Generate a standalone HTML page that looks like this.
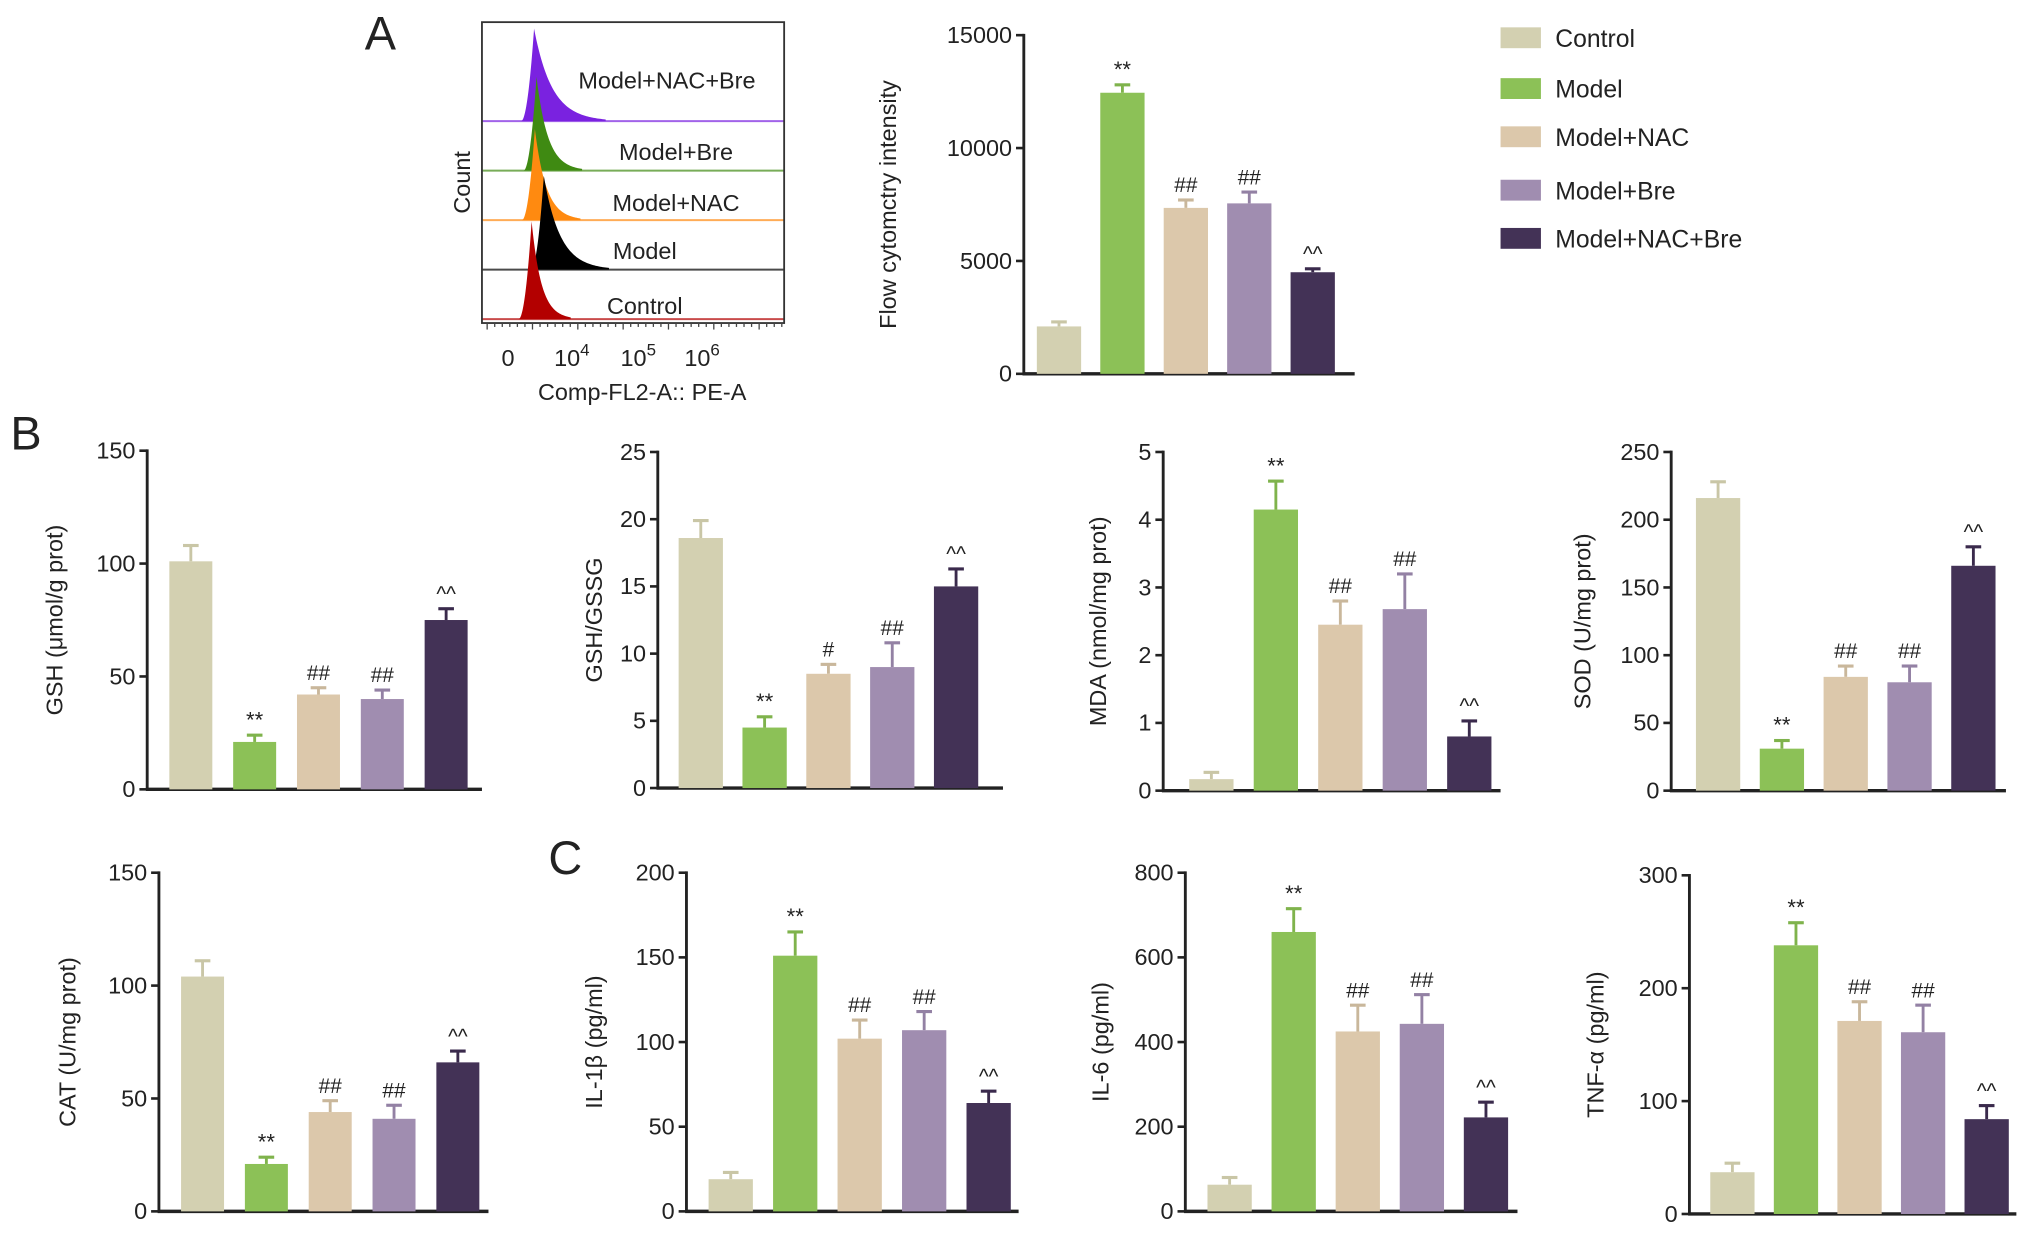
<!DOCTYPE html>
<html><head><meta charset="utf-8">
<style>
html,body{margin:0;padding:0;background:#fff;}
svg{display:block;}
text{font-family:"Liberation Sans Narrow","Liberation Sans",sans-serif;fill:#222;}
</style></head>
<body>
<svg id="fig" width="2032" height="1233" viewBox="0 0 1560 946.6" xmlns="http://www.w3.org/2000/svg">
<rect x="0" y="0" width="1560" height="947" fill="#fff"/>
<g id="root"></g>
</svg>
<script>
// ---- data ----
const groups = ["Control","Model","Model+NAC","Model+Bre","Model+NAC+Bre"];
const colors = ["#d3d0b1","#8cc157","#dcc8ab","#a08db0","#433256"];
const errColors = ["#c9c6a6","#7fb34c","#c9b79b","#9381a4","#3a2a4c"];

const flowValues = [2100,12450,7350,7550,4500];
const flowErr = [2300,12800,7700,8050,4650];
const flowMarks = ["","**","##","##","^^"];

const gshValues = [101,21,42,40,75];
const gshErr = [108,24,45,44,80];
const gshMarks = ["","**","##","##","^^"];

const gssgValues = [18.6,4.5,8.5,9.0,15.0];
const gssgErr = [19.9,5.3,9.2,10.8,16.3];
const gssgMarks = ["","**","#","##","^^"];

const mdaValues = [0.17,4.15,2.45,2.68,0.8];
const mdaErr = [0.27,4.57,2.8,3.2,1.03];
const mdaMarks = ["","**","##","##","^^"];

const sodValues = [216,31,84,80,166];
const sodErr = [228,37,92,92,180];
const sodMarks = ["","**","##","##","^^"];

const catValues = [104,21,44,41,66];
const catErr = [111,24,49,47,71];
const catMarks = ["","**","##","##","^^"];

const il1Values = [19,151,102,107,64];
const il1Err = [23,165,113,118,71];
const il1Marks = ["","**","##","##","^^"];

const il6Values = [63,660,425,443,222];
const il6Err = [80,715,487,512,258];
const il6Marks = ["","**","##","##","^^"];

const tnfValues = [37,238,171,161,84];
const tnfErr = [45,258,188,185,96];
const tnfMarks = ["","**","##","##","^^"];

const flowTicks = [0,5000,10000,15000];
const gshTicks = [0,50,100,150];
const gssgTicks = [0,5,10,15,20,25];
const mdaTicks = [0,1,2,3,4,5];
const sodTicks = [0,50,100,150,200,250];
const catTicks = [0,50,100,150];
const il1Ticks = [0,50,100,150,200];
const il6Ticks = [0,200,400,600,800];
const tnfTicks = [0,100,200,300];

const histLabels = ["Model+NAC+Bre","Model+Bre","Model+NAC","Model","Control"];
const histColors = ["#7a22e0","#3f8a12","#ff8a10","#000000","#b30000"];
const histPeakLog = [1.6,1.75,1.65,2.2,1.45];
const histTail = [4.4,2.8,2.8,4.0,2.4];
const histHeight = [71,72,70,72,75];

// ---- helpers ----
const NS="http://www.w3.org/2000/svg";
const root=document.getElementById('root');
function el(tag,attrs,parent){const e=document.createElementNS(NS,tag);for(const k in attrs)e.setAttribute(k,attrs[k]);(parent||root).appendChild(e);return e;}
function txt(s,attrs,parent){const e=el('text',attrs,parent);e.textContent=s;return e;}

function barChart(cfg){
  const g=el('g',{});
  
  
  const max=cfg.ticks[cfg.ticks.length-1];
  const y=v=>cfg.y0-(v/max)*(cfg.y0-cfg.yTop);
  const x=i=>cfg.bx+i*cfg.step;
  const ya=el('line',{x1:cfg.ax,y1:cfg.yTop-1,x2:cfg.ax,y2:cfg.y0+1,stroke:'#222','stroke-width':2.2},g);
  
  
  const xa=el('line',{x1:cfg.ax-1,y1:cfg.y0,x2:cfg.xEnd,y2:cfg.y0,stroke:'#222','stroke-width':2.6},g);
  
  
  cfg.ticks.forEach(t=>{
    el('line',{x1:cfg.ax-6,y1:y(t),x2:cfg.ax,y2:y(t),stroke:'#222','stroke-width':2},g);
    const tl=txt(String(t),{x:cfg.ax-9,y:y(t)+6,'text-anchor':'end','font-size':18},g);
    
    
  });
  const tt=txt(cfg.title,{x:0,y:0,'text-anchor':'middle','font-size':18,transform:`translate(${cfg.tx},${(cfg.y0+cfg.yTop)/2}) rotate(-90)`},g);
  
  
  cfg.values.forEach((v,i)=>{
    const bx=x(i), top=y(v), et=y(cfg.err[i]), cx=bx+cfg.bw/2;
    el('line',{x1:cx,y1:top,x2:cx,y2:et,stroke:errColors[i],'stroke-width':2.2},g);
    el('line',{x1:cx-6,y1:et,x2:cx+6,y2:et,stroke:errColors[i],'stroke-width':2.4},g);
    const b=el('rect',{x:bx,y:top,width:cfg.bw,height:cfg.y0-top,fill:colors[i]},g);
    
    
    if(cfg.marks[i]){
      const m=txt(cfg.marks[i],{x:cx,y:et-6,'text-anchor':'middle','font-size':cfg.marks[i]==='**'?17:16},g);
      
      
    }
  });
}

barChart({name:'flow-intensity-chart',ax:786,y0:287,yTop:27,xEnd:1040,bx:796,step:48.7,bw:34,ticks:flowTicks,values:flowValues,err:flowErr,marks:flowMarks,title:'Flow cytomctry intensity',tx:688});
barChart({name:'gsh-chart',ax:113,y0:606,yTop:346,xEnd:370,bx:130,step:49,bw:33,ticks:gshTicks,values:gshValues,err:gshErr,marks:gshMarks,title:'GSH (μmol/g prot)',tx:48});
barChart({name:'gsh-gssg-chart',ax:505,y0:605,yTop:347,xEnd:770,bx:521,step:49,bw:34,ticks:gssgTicks,values:gssgValues,err:gssgErr,marks:gssgMarks,title:'GSH/GSSG',tx:462});
barChart({name:'mda-chart',ax:893,y0:607,yTop:347,xEnd:1152,bx:913,step:49.5,bw:34,ticks:mdaTicks,values:mdaValues,err:mdaErr,marks:mdaMarks,title:'MDA (nmol/mg prot)',tx:849});
barChart({name:'sod-chart',ax:1283,y0:607,yTop:347,xEnd:1540,bx:1302,step:49,bw:34,ticks:sodTicks,values:sodValues,err:sodErr,marks:sodMarks,title:'SOD (U/mg prot)',tx:1221});
barChart({name:'cat-chart',ax:122,y0:930,yTop:670,xEnd:375,bx:139,step:49,bw:33,ticks:catTicks,values:catValues,err:catErr,marks:catMarks,title:'CAT (U/mg prot)',tx:58});
barChart({name:'il1b-chart',ax:527,y0:930,yTop:670,xEnd:782,bx:544,step:49.5,bw:34,ticks:il1Ticks,values:il1Values,err:il1Err,marks:il1Marks,title:'IL-1β (pg/ml)',tx:462});
barChart({name:'il6-chart',ax:910,y0:930,yTop:670,xEnd:1165,bx:927,step:49.2,bw:34,ticks:il6Ticks,values:il6Values,err:il6Err,marks:il6Marks,title:'IL-6 (pg/ml)',tx:851});
barChart({name:'tnf-chart',ax:1297,y0:932,yTop:672,xEnd:1548,bx:1313,step:48.8,bw:34,ticks:tnfTicks,values:tnfValues,err:tnfErr,marks:tnfMarks,title:'TNF-α (pg/ml)',tx:1231});

// ---- flow histogram ----
(function(){
  const g=el('g',{});
  
  
  const x0=370,x1=602,yt=17,yb=248;
  const bases=[93,131,169,207,245];
  const xl=l=>390+l*12.5;
  histLabels.forEach((lab,i)=>{
    const base=bases[i], px=xl(histPeakLog[i]), h=histHeight[i], tail=histTail[i]*12.5;
    let d=`M${px-10},${base}`;
    for(let k=0;k<=30;k++){const t=k/30; const xx=px-10+t*10; d+=` L${xx.toFixed(2)},${(base-h*Math.pow(t,2.0)).toFixed(2)}`;}
    for(let k=0;k<=60;k++){const t=k/60; const xx=px+t*tail; d+=` L${xx.toFixed(2)},${(base-h*Math.exp(-4*t)).toFixed(2)}`;}
    d+=` L${px+tail},${base} Z`;
    const p=el('path',{d:d,fill:histColors[i]},g);
    
    
    el('line',{x1:x0,y1:base,x2:x1,y2:base,stroke:histColors[i],'stroke-width':1.6,opacity:0.7},g);
    const t=txt(lab,{x:[512,519,519,495,495][i],y:[68,123,162,199,241][i],'text-anchor':'middle','font-size':18},g);
    
    
  });
  el('rect',{x:x0,y:yt,width:x1-x0,height:yb-yt,fill:'none',stroke:'#333','stroke-width':1.4},g);
  for(let k=0;k<40;k++){el('line',{x1:x0+4+k*5.8,y1:yb,x2:x0+4+k*5.8,y2:yb+(k%6===0?5:3),stroke:'#444','stroke-width':1},g);}
  txt('0',{x:390,y:281,'text-anchor':'middle','font-size':18},g);
  const ticks=[['10','4',443],['10','5',494],['10','6',543]];
  ticks.forEach(t=>{const e=txt('',{x:t[2]-4,y:281,'text-anchor':'middle','font-size':18},g);
    const a=document.createElementNS(NS,'tspan');a.textContent=t[0];e.appendChild(a);
    const b=document.createElementNS(NS,'tspan');b.setAttribute('dy','-8');b.setAttribute('font-size','13');b.textContent=t[1];e.appendChild(b);});
  const xt=txt('Comp-FL2-A:: PE-A',{x:493,y:307,'text-anchor':'middle','font-size':18},g);
  
  
  const ct=txt('Count',{x:0,y:0,'text-anchor':'middle','font-size':18,transform:'translate(361,140) rotate(-90)'},g);
  
  
})();

// ---- legend ----
(function(){
  const g=el('g',{});
  
  
  const ys=[29,68,105,146,183];
  groups.forEach((name,i)=>{
    const r=el('rect',{x:1152,y:ys[i]-8,width:31,height:16,fill:colors[i]},g);
    
    
    const t=txt(name,{x:1194,y:ys[i]+7,'font-size':19},g);
    
    
  });
})();

// ---- panel letters ----
[['A',292,38],['B',20,345],['C',434,671]].forEach(p=>{
  const t=txt(p[0],{x:p[1],y:p[2],'text-anchor':'middle','font-size':36});
  
  
});
</script>
</body></html>
